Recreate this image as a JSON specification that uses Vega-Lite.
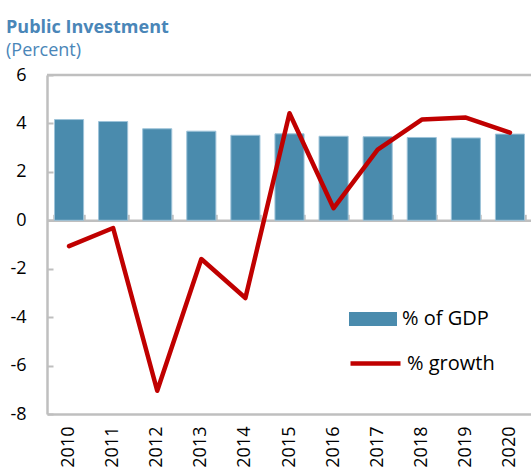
{
  "$schema": "https://vega.github.io/schema/vega-lite/v6.json",
  "width": 485,
  "height": 339,
  "autosize": {"type": "none"},
  "padding": {"left": 47, "top": 75, "right": 0, "bottom": 58},
  "background": "white",
  "config": {"view": {"stroke": null}, "font": "Open Sans"},
  "title": {
    "text": "Public Investment",
    "subtitle": "(Percent)",
    "anchor": "start",
    "frame": "group",
    "dx": -41,
    "font": "Open Sans",
    "fontSize": 18,
    "fontWeight": "bold",
    "color": "#4a86b8",
    "subtitleFont": "Open Sans",
    "subtitleFontSize": 18,
    "subtitleColor": "#4a86b8",
    "subtitlePadding": 5,
    "offset": 6
  },
  "data": {
    "values": [
      {"year": "2010", "gdp": 4.16, "growth": -1.07},
      {"year": "2011", "gdp": 4.08, "growth": -0.32},
      {"year": "2012", "gdp": 3.78, "growth": -7.04},
      {"year": "2013", "gdp": 3.68, "growth": -1.6},
      {"year": "2014", "gdp": 3.51, "growth": -3.21},
      {"year": "2015", "gdp": 3.57, "growth": 4.42},
      {"year": "2016", "gdp": 3.47, "growth": 0.5},
      {"year": "2017", "gdp": 3.45, "growth": 2.92},
      {"year": "2018", "gdp": 3.42, "growth": 4.16},
      {"year": "2019", "gdp": 3.40, "growth": 4.24},
      {"year": "2020", "gdp": 3.56, "growth": 3.62}
    ]
  },
  "layer": [
    {
      "mark": {"type": "bar", "color": "#4a8bad", "stroke": "#9dc3d9", "strokeWidth": 1},
      "encoding": {
        "x": {
          "field": "year", "type": "ordinal",
          "scale": {"paddingInner": 0.34, "paddingOuter": 0.17},
          "axis": {"orient": "bottom", "title": null, "labelAngle": -90, "ticks": false, "labelPadding": 12, "labelFontSize": 18, "labelColor": "#000000", "labelFont": "Open Sans", "domainColor": "#bfbfbf", "domainWidth": 2.5}
        },
        "y": {
          "field": "gdp", "type": "quantitative",
          "scale": {"domain": [-8, 6], "nice": false, "zero": false},
          "axis": {"title": null, "values": [-8, -6, -4, -2, 0, 2, 4, 6], "labelExpr": "'' + datum.value", "tickSize": -6, "tickColor": "#bfbfbf", "tickWidth": 2, "labelPadding": 27, "labelFontSize": 18, "labelColor": "#000000", "labelFont": "Open Sans", "domainColor": "#bfbfbf", "domainWidth": 2.5, "grid": false}
        },
        "fill": {
          "datum": "% of GDP",
          "scale": {"range": ["#4a8bad"]},
          "legend": {"title": null, "orient": "none", "legendX": 302, "legendY": 220, "symbolType": "M-1,-0.29H1V0.29H-1Z", "symbolSize": 2304, "symbolStrokeWidth": 0, "labelFontSize": 20, "labelFont": "Open Sans", "labelColor": "#000000", "labelOffset": 5, "padding": 0}
        }
      }
    },
    {
      "data": {"values": [{"v": 6}]},
      "mark": {"type": "rule", "color": "#bfbfbf", "strokeWidth": 2.5},
      "encoding": {
        "y": {"field": "v", "type": "quantitative", "scale": {"domain": [-8, 6], "nice": false, "zero": false}, "axis": null}
      }
    },
    {
      "mark": {"type": "line", "color": "#c00000", "strokeWidth": 4.5, "strokeCap": "round", "strokeJoin": "round"},
      "encoding": {
        "x": {
          "field": "year", "type": "ordinal",
          "axis": {"orient": "top", "offset": -145.3, "labels": false, "title": null, "tickBand": "extent", "tickSize": 6, "tickColor": "#bfbfbf", "tickWidth": 2.5, "domainColor": "#bfbfbf", "domainWidth": 2.5}
        },
        "y": {"field": "growth", "type": "quantitative", "scale": {"domain": [-8, 6], "nice": false, "zero": false}, "axis": null},
        "stroke": {
          "datum": "% growth",
          "scale": {"range": ["#c00000"]},
          "legend": {"title": null, "orient": "none", "legendX": 301, "legendY": 261, "symbolType": "stroke", "symbolSize": 2500, "symbolStrokeWidth": 4.5, "labelFontSize": 20, "labelFont": "Open Sans", "labelColor": "#000000", "labelOffset": 4, "padding": 0}
        }
      }
    }
  ],
  "resolve": {"axis": {"x": "independent", "y": "independent"}}
}
